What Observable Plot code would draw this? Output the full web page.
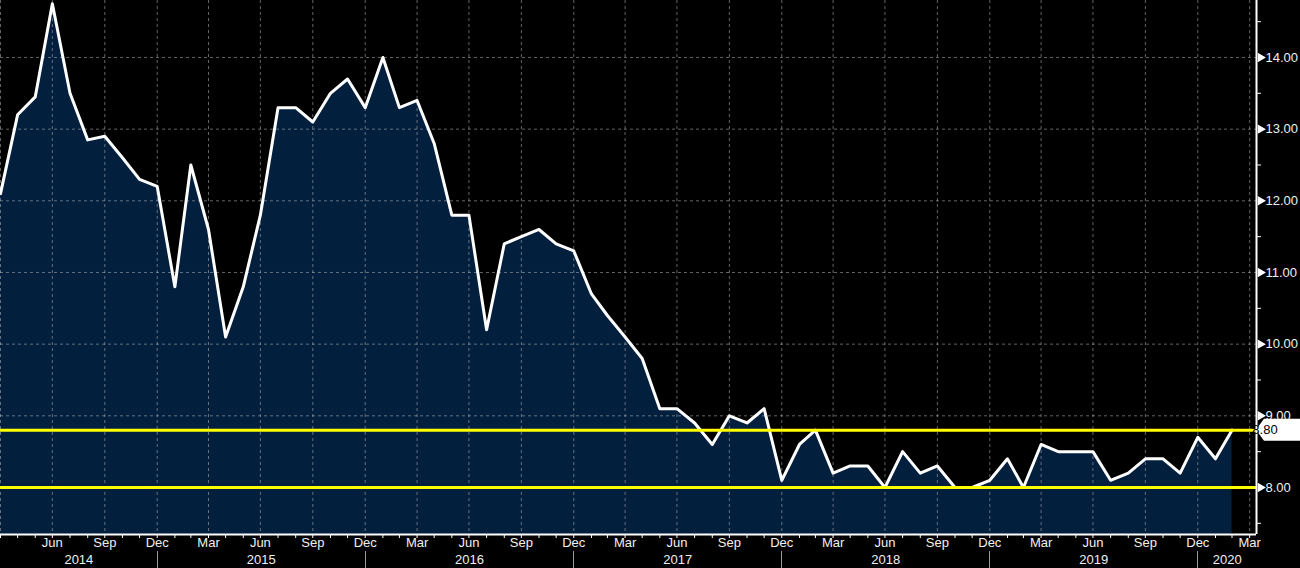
<!DOCTYPE html>
<html><head><meta charset="utf-8">
<script src="https://cdn.jsdelivr.net/npm/d3@7"></script>
<script src="https://cdn.jsdelivr.net/npm/@observablehq/plot@0.6"></script>
<style>
html,body{margin:0;padding:0;background:#000;overflow:hidden;}
#chart svg{display:block;}
</style></head><body><div id="chart"></div>
<script>
// ---- data ----
const startYear = 2014, startMonth = 2; // first observation: March 2014 (month index 0-based)
const values = [
  12.1, 13.2, 13.45, 14.75, 13.5, 12.85, 12.9, 12.6, 12.3, 12.2,          // 2014 Mar-Dec
  10.8, 12.5, 11.6, 10.1, 10.8, 11.8, 13.3, 13.3, 13.1, 13.5, 13.7, 13.3, // 2015
  14.0, 13.3, 13.4, 12.8, 11.8, 11.8, 10.2, 11.4, 11.5, 11.6, 11.4, 11.3, // 2016
  10.7, 10.4, 10.1, 9.8, 9.1, 9.1, 8.9, 8.6, 9.0, 8.9, 9.1, 8.1,           // 2017
  8.6, 8.8, 8.2, 8.3, 8.3, 8.0, 8.5, 8.2, 8.3, 8.0, 8.0, 8.1,             // 2018
  8.4, 8.0, 8.6, 8.5, 8.5, 8.5, 8.1, 8.2, 8.4, 8.4, 8.2, 8.7,             // 2019
  8.4, 8.8                                                               // 2020 Jan-Feb
];
const years = [2014, 2015, 2016, 2017, 2018, 2019, 2020];
const quarterMonths = [2, 5, 8, 11]; // Mar, Jun, Sep, Dec
const monthNames = ["Jan","Feb","Mar","Apr","May","Jun","Jul","Aug","Sep","Oct","Nov","Dec"];
const yTicks = [8, 9, 10, 11, 12, 13, 14];
const yMinorTicks = [7.5, 8.5, 9.5, 10.5, 11.5, 12.5, 13.5, 14.5];
const refLines = [8.8, 8.0];
const lastValueLabel = "8.80";
const xDomain = [new Date(Date.UTC(2014, 2, 31)), new Date(Date.UTC(2020, 3, 12))];
const yDomain = [7.344, 14.795];

// ---- derived ----
const endOfMonth = (y, m) => new Date(Date.UTC(y, m + 1, 0));
const data = values.map((v, i) => ({date: endOfMonth(startYear, startMonth + i), value: v}));
const allMonthEnds = [];
for (let y = 2014; y <= 2020; y++) for (let m = 0; m < 12; m++) {
  const d = endOfMonth(y, m);
  if (d >= xDomain[0] && d <= xDomain[1]) allMonthEnds.push(d);
}
const quarterTicks = allMonthEnds.filter(d => quarterMonths.includes(d.getUTCMonth()));
const quarterLabelTicks = quarterTicks.filter(d => d > xDomain[0]);
const yearSeps = years.slice(0, -1).map(y => endOfMonth(y, 11));
const yearLabels = years.map(y => {
  const a = Math.max(+xDomain[0], +endOfMonth(y - 1, 11));
  const b = Math.min(+xDomain[1], +endOfMonth(y, 11));
  return {year: String(y), date: new Date((a + b) / 2)};
});

const FONT = "'Liberation Sans',Arial,sans-serif";
const grid = {stroke: "#b4b4b4", strokeOpacity: 0.55, strokeDasharray: "3,3", strokeWidth: 1};

// custom mark: year separators below x axis
function yearSeparators(index, scales, values, dims) {
  const g = d3.create("svg:g");
  const y0 = dims.height - dims.marginBottom;
  for (const d of yearSeps) {
    const x = Math.round(scales.x(d)) + 0.5;
    g.append("line").attr("x1", x).attr("x2", x).attr("y1", y0 + 17).attr("y2", dims.height)
      .attr("stroke", "#9a9a9a").attr("stroke-width", 1);
  }
  return g.node();
}
// custom mark: last value tag on right axis
function lastValueTag(index, scales, values, dims) {
  const g = d3.create("svg:g");
  const x0 = dims.width - dims.marginRight;
  const yc = scales.y(refLines[0]);
  const h = 11;
  g.append("path")
    .attr("d", `M${x0},${yc} L${x0 + 8},${yc - h} L${dims.width},${yc - h} L${dims.width},${yc + h} L${x0 + 8},${yc + h} Z`)
    .attr("fill", "#ffffff");
  g.append("text").attr("x", x0 + 9).attr("y", yc).attr("dy", "0.36em")
    .attr("fill", "#000").attr("font-size", 13).attr("font-family", FONT).text(lastValueLabel);
  return g.node();
}

const chart = Plot.plot({
  width: 1300,
  height: 568,
  marginLeft: 0,
  marginRight: 44,
  marginTop: 0,
  marginBottom: 34,
  style: {background: "#000", color: "#fff", fontFamily: FONT, fontSize: "13px"},
  x: {type: "utc", domain: xDomain, axis: null},
  y: {domain: yDomain, axis: null},
  marks: [
    Plot.areaY(data, {x: "date", y1: yDomain[0], y2: "value", fill: "#031f3e"}),
    Plot.ruleX(quarterTicks, grid),
    Plot.ruleY(yTicks, grid),
    Plot.line(data, {x: "date", y: "value", stroke: "#ffffff", strokeWidth: 3}),
    Plot.ruleY(refLines, {stroke: "#ffff00", strokeWidth: 3}),
    // axes frame lines
    Plot.ruleX([xDomain[1]], {stroke: "#ffffff", strokeWidth: 2}),
    Plot.ruleY([yDomain[0]], {stroke: "#ffffff", strokeWidth: 2}),
    // x axis ticks & labels
    Plot.axisX({ticks: allMonthEnds, tickSize: 4, tickFormat: () => "", stroke: "#ffffff", label: null}),
    Plot.axisX({ticks: quarterLabelTicks, tickSize: 0, tickPadding: 3, tickFormat: d => monthNames[d.getUTCMonth()], fill: "#f0f0f0", fontSize: 13, label: null}),
    Plot.text(yearLabels, {x: "date", y: yDomain[0], text: "year", dy: 25, fill: "#f0f0f0", fontSize: 13}),
    yearSeparators,
    // y axis ticks & labels
    Plot.axisY({anchor: "right", ticks: yMinorTicks, tickSize: 4, tickFormat: () => "", stroke: "#ffffff", label: null}),
    Plot.dot(yTicks, {x: xDomain[1], y: d => d, symbol: "triangle", rotate: 90, r: 3.5, dx: 4, fill: "#ffffff", stroke: null}),
    Plot.axisY({anchor: "right", ticks: yTicks, tickSize: 0, tickPadding: 9, tickFormat: d => d.toFixed(2), fill: "#f0f0f0", fontSize: 13, label: null}),
    lastValueTag
  ]
});
document.getElementById("chart").appendChild(chart);
</script>
</body></html>
